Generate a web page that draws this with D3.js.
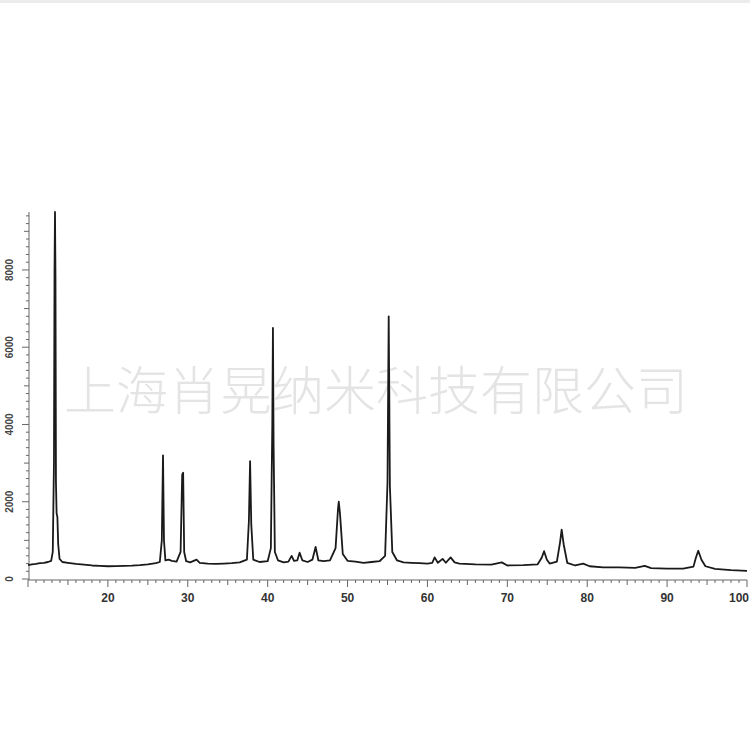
<!DOCTYPE html>
<html lang="zh">
  <head>
    <meta charset="UTF-8" />
    <title>XRD pattern</title>
    <script src="https://cdn.jsdelivr.net/npm/d3@7"></script>
    <style>
      body { margin: 0; background: #fff; }
      svg { display: block; }
    </style>
  </head>
  <body>
    <div id="chart_svg"></div>
    <script>
      // 2theta (degrees) and intensity (counts)
      const twoTheta = [
        10.0, 10.5, 11.0, 11.5, 12.0, 12.5, 12.9, 13.1, 13.25, 13.32, 13.38, 13.44, 13.5, 13.58, 13.68, 13.78, 13.95, 14.3,
        15.0, 16.0, 17.0, 18.0, 19.0, 20.0, 21.0, 22.0, 23.0, 24.0, 25.0, 26.0, 26.5, 26.75, 26.9, 27.02, 27.2, 27.6,
        28.0, 28.6, 29.1, 29.3, 29.42, 29.55, 29.8, 30.3, 31.1, 31.5, 32.5, 33.5, 34.5, 35.5, 36.5, 37.4, 37.65, 37.8,
        37.95, 38.2, 39.0, 40.0, 40.4, 40.58, 40.66, 40.74, 40.9, 41.3, 42.0, 42.6, 43.0, 43.3, 43.7, 44.0, 44.35, 45.0,
        45.6, 46.0, 46.35, 47.0, 47.8, 48.5, 48.8, 48.9, 49.05, 49.4, 50.0, 51.0, 52.0, 53.0, 54.0, 54.7, 55.0, 55.15,
        55.3, 55.6, 56.2, 57.0, 58.0, 59.0, 60.0, 60.6, 60.9, 61.3, 61.9, 62.3, 62.9, 63.4, 64.0, 66.0, 68.0, 69.3,
        70.0, 72.0, 73.8, 74.3, 74.6, 74.95, 75.3, 76.2, 76.6, 76.8, 77.05, 77.5, 78.5, 79.5, 80.3, 82.0, 84.0, 86.0,
        87.2, 88.0, 90.0, 92.0, 93.3, 93.6, 93.9, 94.3, 94.8, 96.0, 98.0, 100.0
      ]
      const counts = [
        360, 380, 390, 410, 420, 440, 470, 700, 3000, 8000, 9500, 7800, 2500, 1700, 1600, 900, 520, 440,
        420, 390, 370, 350, 340, 330, 335, 340, 345, 360, 380, 410, 440, 1000, 3200, 1000, 480, 500,
        470, 450, 700, 2700, 2750, 700, 460, 430, 500, 420, 400, 390, 400, 410, 430, 500, 1500, 3050,
        1400, 500, 440, 460, 800, 4000, 6500, 3500, 700, 480, 430, 450, 600, 470, 480, 680, 480, 440,
        500, 830, 480, 460, 480, 800, 1800, 2000, 1700, 650, 470, 450, 420, 440, 460, 600, 2500, 6800,
        2400, 700, 480, 430, 420, 410, 400, 420, 560, 420, 520, 420, 560, 430, 400, 380, 370, 430,
        350, 360, 380, 550, 720, 500, 400, 450, 950, 1280, 900, 420, 350, 400, 330, 300, 300, 290,
        340, 280, 270, 270, 320, 550, 730, 500, 330, 260, 230, 210
      ]
      const xTickValues = [20, 30, 40, 50, 60, 70, 80, 90, 100]
      const yTickValues = [0, 2000, 4000, 6000, 8000]
      const watermark = '上海肖晃纳米科技有限公司'

      const width = 750
      const height = 750
      const svg = d3
        .select('#chart_svg')
        .append('svg')
        .attr('width', width)
        .attr('height', height)

      // faint band at the very top of the picture
      svg.append('rect').attr('x', 0).attr('y', 0).attr('width', width).attr('height', 3).attr('fill', '#ececec')

      const x = d3.scaleLinear().domain([10, 100]).range([28, 747])
      const y = d3.scaleLinear().domain([0, 9500]).range([579, 212])

      // watermark behind the trace
      svg
        .append('text')
        .attr('x', 376)
        .attr('y', 387)
        .attr('text-anchor', 'middle')
        .attr('dominant-baseline', 'central')
        .attr('font-family', '"Noto Sans CJK SC", sans-serif')
        .attr('font-weight', 300)
        .attr('font-size', 52)
        .attr('fill', '#e4e4e4')
        .text(watermark)

      // minor ticks: x every 1, y every 200
      const xMinor = d3.range(10, 100.5, 1)
      const yMinor = d3.range(0, 9401, 200)

      const xAxis = svg.append('g').attr('transform', `translate(0,${y(0) + 1})`)
      xAxis
        .append('line')
        .attr('x1', x(10))
        .attr('x2', x(100))
        .attr('stroke', '#666')
      xAxis
        .selectAll('.tick')
        .data(xMinor)
        .join('line')
        .attr('x1', d => x(d))
        .attr('x2', d => x(d))
        .attr('y1', 0)
        .attr('y2', d => (d % 10 === 0 ? 7 : d % 5 === 0 ? 5 : 3))
        .attr('stroke', '#666')
      xAxis
        .selectAll('text')
        .data(xTickValues)
        .join('text')
        .attr('x', d => (d === 100 ? width - 1 : x(d)))
        .attr('y', 18)
        .attr('dominant-baseline', 'central')
        .attr('text-anchor', d => (d === 100 ? 'end' : 'middle'))
        .attr('font-family', 'Liberation Sans, Arial, sans-serif')
        .attr('font-weight', 'bold')
        .attr('font-size', 12)
        .attr('fill', '#333')
        .text(d => d)

      const yAxis = svg.append('g').attr('transform', `translate(${x(10) + 1},0)`)
      yAxis
        .append('line')
        .attr('y1', y(0) + 1)
        .attr('y2', y(9500))
        .attr('stroke', '#666')
      yAxis
        .selectAll('.tick')
        .data(yMinor)
        .join('line')
        .attr('y1', d => y(d))
        .attr('y2', d => y(d))
        .attr('x1', 0)
        .attr('x2', d => (d % 2000 === 0 ? -7 : d % 1000 === 0 ? -5 : -3))
        .attr('stroke', '#666')
      yAxis
        .selectAll('text')
        .data(yTickValues)
        .join('text')
        .attr('transform', d => `translate(-20,${y(d)}) rotate(-90)`)
        .attr('dominant-baseline', 'central')
        .attr('text-anchor', 'middle')
        .attr('font-family', 'Liberation Sans, Arial, sans-serif')
        .attr('font-weight', 'bold')
        .attr('font-size', 10)
        .attr('fill', '#444')
        .text(d => d)

      // diffraction trace
      const points = twoTheta.map((t, i) => [t, counts[i]])
      const line = d3
        .line()
        .x(d => x(d[0]))
        .y(d => y(d[1]))
      svg
        .append('path')
        .datum(points)
        .attr('d', line)
        .attr('fill', 'none')
        .attr('stroke', '#1a1a1a')
        .attr('stroke-width', 1.8)
        .attr('stroke-linejoin', 'round')
    </script>
  </body>
</html>
